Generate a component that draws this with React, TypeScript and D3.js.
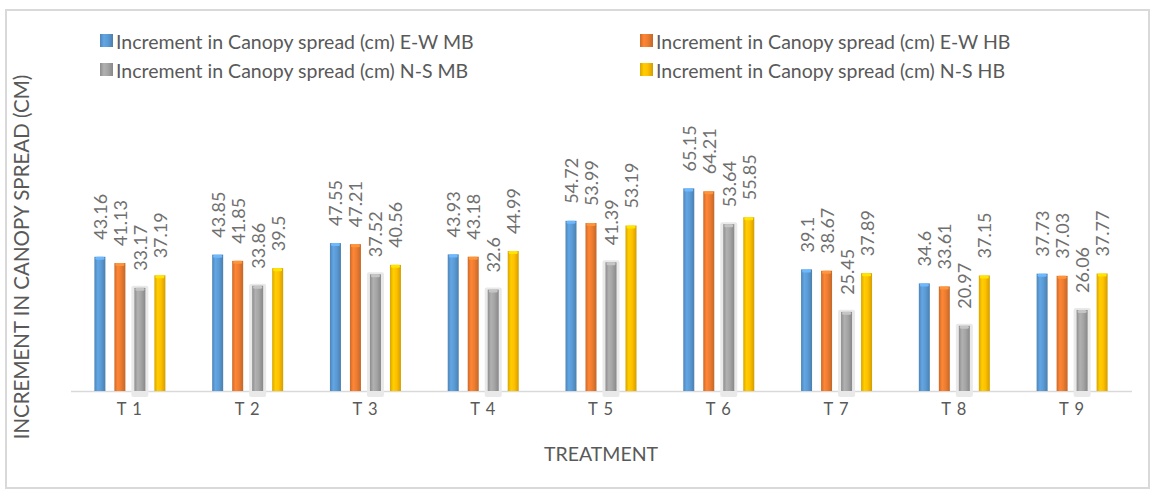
import React from "react";
import * as d3 from "d3";

const categories = ["T 1", "T 2", "T 3", "T 4", "T 5", "T 6", "T 7", "T 8", "T 9"];
const seriesNames = [
  "Increment in Canopy spread (cm) E-W MB",
  "Increment in Canopy spread (cm) E-W HB",
  "Increment in Canopy spread (cm) N-S MB",
  "Increment in Canopy spread (cm) N-S HB",
];
const ewMB = [43.16, 43.85, 47.55, 43.93, 54.72, 65.15, 39.1, 34.6, 37.73];
const ewHB = [41.13, 41.85, 47.21, 43.18, 53.99, 64.21, 38.67, 33.61, 37.03];
const nsMB = [33.17, 33.86, 37.52, 32.6, 41.39, 53.64, 25.45, 20.97, 26.06];
const nsHB = [37.19, 39.5, 40.56, 44.99, 53.19, 55.85, 37.89, 37.15, 37.77];
const labelStrings = [
  ["43.16", "43.85", "47.55", "43.93", "54.72", "65.15", "39.1", "34.6", "37.73"],
  ["41.13", "41.85", "47.21", "43.18", "53.99", "64.21", "38.67", "33.61", "37.03"],
  ["33.17", "33.86", "37.52", "32.6", "41.39", "53.64", "25.45", "20.97", "26.06"],
  ["37.19", "39.5", "40.56", "44.99", "53.19", "55.85", "37.89", "37.15", "37.77"],
];
const colors = ["#5b9bd5", "#ed7d31", "#a5a5a5", "#ffc000"];
const xTitle = "TREATMENT";
const yTitle = "INCREMENT IN CANOPY SPREAD (CM)";

const W = 1153;
const H = 492;
const FONT = "Lato, 'Liberation Sans', sans-serif";

export default function App() {
  const series = [ewMB, ewHB, nsMB, nsHB];
  const x = d3.scaleBand<string>().domain(categories).range([71, 1131]);
  const inner = d3.scaleBand<number>().domain([0, 1, 2, 3]).range([-40, 40]).paddingInner(0.45).paddingOuter(0.225);
  const y = d3.scaleLinear().domain([0, 70]).range([391, 391 - 70 * 3.11]);
  const bw = inner.bandwidth();

  return (
    <svg width={W} height={H} style={{ position: "absolute", left: 0, top: 0, background: "#fff" }} fontFamily={FONT}>
      <defs>
        {colors.map((c, i) => {
          const base = d3.color(c)!;
          return (
            <linearGradient key={i} id={`g${i}`} x1="0" x2="1" y1="0" y2="0">
              <stop offset="0%" stopColor={base.darker(0.45).formatHex()} />
              <stop offset="30%" stopColor={base.brighter(0.2).formatHex()} />
              <stop offset="60%" stopColor={c} />
              <stop offset="100%" stopColor={base.darker(0.55).formatHex()} />
            </linearGradient>
          );
        })}
      </defs>
      <rect x={0} y={0} width={W} height={H} fill="#fff" />
      <rect x={6} y={10} width={1143} height={478} fill="none" stroke="#d9d9d9" strokeWidth={2} />

      {/* legend */}
      {seriesNames.map((name, i) => {
        const lx = i % 2 === 0 ? 100 : 640;
        const ly = i < 2 ? 41 : 70;
        return (
          <g key={name}>
            <rect x={lx} y={ly - 7} width={13} height={13} fill={`url(#g${i})`} />
            <text x={lx + 16} y={ly} dominantBaseline="central" fontSize={19.5} fill="#595959">
              {name}
            </text>
          </g>
        );
      })}

      {/* axis line */}
      <line x1={71} x2={1132} y1={391.5} y2={391.5} stroke="#d9d9d9" strokeWidth={1.5} />

      {/* bars */}
      {series.map((vals, si) =>
        vals.map((v, ci) => {
          const cx = (x(categories[ci]) as number) + x.bandwidth() / 2 + (inner(si) as number);
          const top = y(v);
          return (
            <g key={`${si}-${ci}`}>
              {si === 2 && (
                <rect x={cx - 3} y={top - 2} width={bw + 6} height={y(0) - top + 8} fill="#e9e9e9" rx={2} />
              )}
              <rect x={cx} y={top} width={bw} height={y(0) - top} fill={`url(#g${si})`} />
              <rect x={cx + 1} y={top} width={bw - 2} height={3} fill={d3.color(colors[si])!.brighter(0.5).formatHex()} rx={1.5} />
            </g>
          );
        })
      )}

      {/* data labels */}
      {series.map((vals, si) =>
        vals.map((v, ci) => {
          const cx = (x(categories[ci]) as number) + x.bandwidth() / 2 + (inner(si) as number) + bw / 2;
          const ty = y(v) - 17;
          return (
            <text
              key={`l${si}-${ci}`}
              transform={`translate(${cx},${ty}) rotate(-90)`}
              dominantBaseline="central"
              fontSize={18}
              fill="#6f6f6f"
            >
              {labelStrings[si][ci]}
            </text>
          );
        })
      )}

      {/* x ticks */}
      {categories.map((c) => (
        <text
          key={c}
          x={(x(c) as number) + x.bandwidth() / 2}
          y={409}
          textAnchor="middle"
          dominantBaseline="central"
          fontSize={16.5}
          letterSpacing={1}
          fill="#595959"
        >
          {c}
        </text>
      ))}

      <text x={601} y={453} textAnchor="middle" dominantBaseline="central" fontSize={19.5} fill="#595959">
        {xTitle}
      </text>
      <text
        transform={`translate(21,${257}) rotate(-90)`}
        textAnchor="middle"
        dominantBaseline="central"
        fontSize={20.5}
        fill="#595959"
      >
        {yTitle}
      </text>
    </svg>
  );
}
